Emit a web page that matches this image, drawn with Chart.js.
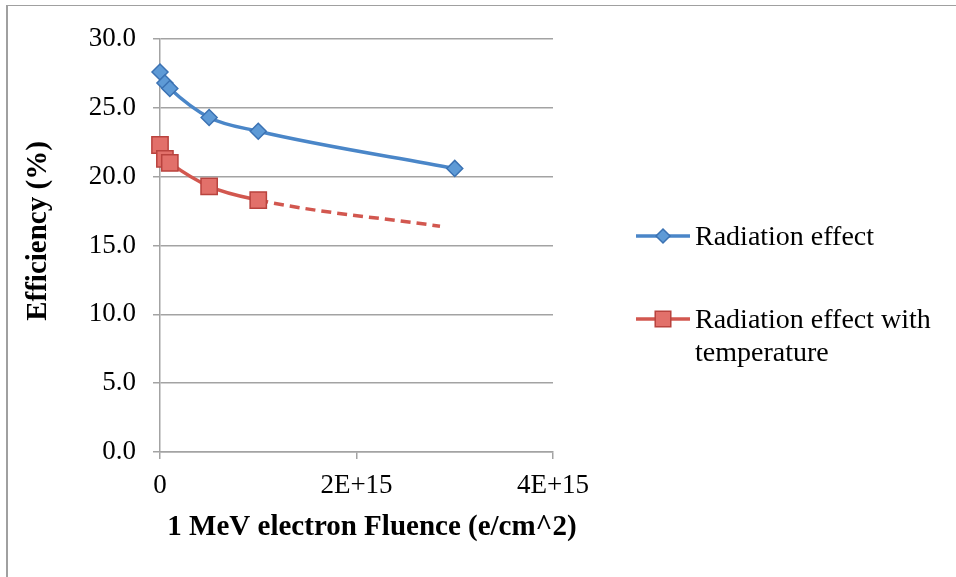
<!DOCTYPE html>
<html>
<head>
<meta charset="utf-8">
<script src="https://cdn.jsdelivr.net/npm/chart.js@4"></script>
<style>
  body { margin: 0; background: #fff; }
  #wrap { position: relative; width: 956px; height: 577px; }
  #frame { position: absolute; left: 6px; top: 5px; right: -2px; bottom: -2px;
           border-top: 1.5px solid #a0a0a0; border-left: 2px solid #a0a0a0; pointer-events: none; }
</style>
</head>
<body>
<div id="wrap">
  <canvas id="grafico" width="956" height="577"></canvas>
  <div id="frame"></div>
</div>
<script>
// valores
var fluence = [0, 5e13, 1e14, 5e14, 1e15, 3e15];
var radiationEff = [27.6, 26.8, 26.4, 24.3, 23.3, 20.6];
var tempFluence = [0, 5e13, 1e14, 5e14, 1e15, 2.85e15];
var tempEff = [22.3, 21.3, 21.0, 19.3, 18.3, 16.4];
var seriesNames = ['Radiation effect', 'Radiation effect with temperature'];
var xTicks = [0, 2e15, 4e15];
var yTicks = [0, 5, 10, 15, 20, 25, 30];
var xTitle = '1 MeV electron Fluence (e/cm^2)';
var yTitle = 'Efficiency (%)';

var FONT = "'Liberation Serif', serif";
var BLUE = '#4a86c8', BLUE_FILL = '#5e9ad6', BLUE_EDGE = '#3b72b3';
var RED = '#d2574f', RED_FILL = '#e2706a', RED_EDGE = '#b9433e';
var GRID = '#a3a3a3';

function toPoints(xs, ys) {
    return xs.map(function (x, i) { return { x: x, y: ys[i] }; });
}

function wrapText(ctx, text, maxW) {
    var words = text.split(' '), lines = [], cur = '';
    words.forEach(function (w) {
        var t = cur ? cur + ' ' + w : w;
        if (ctx.measureText(t).width > maxW && cur) { lines.push(cur); cur = w; }
        else cur = t;
    });
    lines.push(cur);
    return lines;
}

function drawMarker(ctx, style, x, y, r, fill, edge) {
    ctx.beginPath();
    if (style === 'rectRot') {
        ctx.moveTo(x, y - r); ctx.lineTo(x + r, y); ctx.lineTo(x, y + r); ctx.lineTo(x - r, y);
    } else {
        var s = r * Math.SQRT1_2;
        ctx.rect(x - s, y - s, 2 * s, 2 * s);
    }
    ctx.closePath();
    ctx.fillStyle = fill; ctx.fill();
    ctx.lineWidth = 1.5; ctx.strokeStyle = edge; ctx.stroke();
}

// leyenda y titulos de ejes dibujados a mano
var extras = {
    id: 'extras',
    afterDraw: function (chart) {
        var ctx = chart.ctx;
        ctx.save();
        ctx.fillStyle = '#000';
        ctx.font = 'bold 29px ' + FONT;
        ctx.textAlign = 'center';
        ctx.textBaseline = 'middle';
        ctx.fillText(xTitle, 372, 528);
        ctx.translate(39, 231);
        ctx.rotate(-Math.PI / 2);
        ctx.fillText(yTitle, 0, 0);
        ctx.restore();

        ctx.save();
        ctx.font = '28px ' + FONT;
        ctx.textBaseline = 'middle';
        var rows = [236, 319];
        chart.data.datasets.forEach(function (ds, i) {
            var y = rows[i];
            ctx.strokeStyle = ds.borderColor;
            ctx.lineWidth = 3.5;
            ctx.setLineDash([]);
            ctx.beginPath(); ctx.moveTo(636, y); ctx.lineTo(690, y); ctx.stroke();
            drawMarker(ctx, ds.pointStyle, 663, y, i === 0 ? 7 : 11, ds.pointBackgroundColor, ds.pointBorderColor);
            ctx.fillStyle = '#000';
            wrapText(ctx, ds.label, 250).forEach(function (line, k) {
                ctx.fillText(line, 695, y + 2 + k * 33);
            });
        });
        ctx.restore();
    }
};

var ctx = document.getElementById('grafico').getContext('2d');
var chart = new Chart(ctx, {
    type: 'scatter',
    data: {
        datasets: [{
            label: seriesNames[0],
            data: toPoints(fluence, radiationEff),
            showLine: true,
            clip: false,
            borderColor: BLUE,
            borderWidth: 3.5,
            cubicInterpolationMode: 'monotone',
            pointStyle: 'rectRot',
            pointRadius: 8,
            pointBackgroundColor: BLUE_FILL,
            pointBorderColor: BLUE_EDGE,
            pointBorderWidth: 1.5
        }, {
            label: seriesNames[1],
            data: toPoints(tempFluence, tempEff),
            showLine: true,
            clip: false,
            borderColor: RED,
            borderWidth: 3.5,
            cubicInterpolationMode: 'monotone',
            segment: {
                borderDash: function (c) { return c.p1DataIndex === tempEff.length - 1 ? [10, 6] : undefined; }
            },
            pointStyle: 'rect',
            pointRadius: function (c) { return c.dataIndex === tempEff.length - 1 ? 0 : 11.5; },
            pointBackgroundColor: RED_FILL,
            pointBorderColor: RED_EDGE,
            pointBorderWidth: 1.5
        }]
    },
    options: {
        responsive: false,
        animation: false,
        layout: { padding: { left: 0, top: 39, right: 403, bottom: 0 } },
        plugins: { legend: { display: false }, tooltip: { enabled: false } },
        scales: {
            x: {
                type: 'linear',
                min: 0, max: 4e15,
                afterFit: function (s) { s.height = 125; },
                afterBuildTicks: function (s) { s.ticks = xTicks.map(function (v) { return { value: v }; }); },
                ticks: {
                    color: '#000',
                    font: { family: FONT, size: 27 },
                    padding: 11,
                    maxRotation: 0,
                    callback: function (v) { return v === 0 ? '0' : (v / 1e15) + 'E+15'; }
                },
                grid: { drawOnChartArea: false, drawTicks: true, tickLength: 7, color: GRID, lineWidth: 1.5 },
                border: { color: GRID, width: 1.5 }
            },
            y: {
                min: 0, max: 30,
                afterFit: function (s) { s.width = 160; },
                afterBuildTicks: function (s) { s.ticks = yTicks.map(function (v) { return { value: v }; }); },
                ticks: {
                    color: '#000',
                    font: { family: FONT, size: 27 },
                    padding: 17,
                    callback: function (v) { return v.toFixed(1); }
                },
                grid: { drawTicks: true, tickLength: 7, color: GRID, lineWidth: 1.5 },
                border: { color: GRID, width: 1.5 }
            }
        }
    },
    plugins: [extras]
});
</script>
</body>
</html>
